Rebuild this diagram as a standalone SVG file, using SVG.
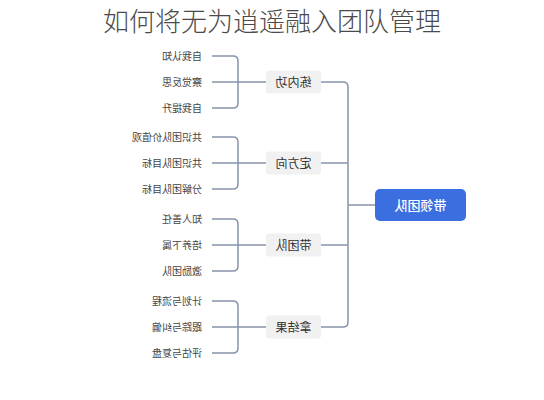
<svg xmlns="http://www.w3.org/2000/svg" width="544" height="400" viewBox="0 0 544 400">
<style>
text{font-family:"Noto Sans CJK SC","Noto Sans",sans-serif}
.title{font-size:26px;fill:#4a4a4a;text-anchor:middle;font-weight:300}
.leaf{font-size:10px;fill:#444}
.br rect{fill:#f1f1f1}
.br text{font-size:12px;fill:#333;text-anchor:middle}
.root rect{fill:#3b6fe0}
.root text{font-size:13px;fill:#fff;text-anchor:middle;font-weight:500}
.conn path{fill:none;stroke:#8794aa;stroke-width:1.5}
</style>
<rect width="544" height="400" fill="#fff"/>
<text class="title" x="272" y="31">如何将无为逍遥融入团队管理</text>
<g class="conn" id="connectors">
<path d="M375,205 H348"/>
<path d="M321,82 H343 Q348,82 348,87 V322 Q348,327 343,327 H321"/>
<path d="M321,163 H348"/>
<path d="M321,245 H348"/>
<path d="M266,82 H212 M212,56 H233 Q238,56 238,61 V103 Q238,108 233,108 H212"/>
<path d="M266,163 H212 M212,137 H233 Q238,137 238,142 V184 Q238,189 233,189 H212"/>
<path d="M266,245 H212 M212,219 H233 Q238,219 238,224 V266 Q238,271 233,271 H212"/>
<path d="M266,327 H212 M212,301 H233 Q238,301 238,306 V348 Q238,353 233,353 H212"/>
</g>
<g id="root" class="root"><rect x="375" y="189" width="91" height="32" rx="5"/><text transform="scale(-1,1)" x="-420.5" y="209.5">带领团队</text></g>
<g id="b1" class="br"><rect x="266" y="70.5" width="55" height="23" rx="3"/><text transform="scale(-1,1)" x="-293.5" y="86.5">练内功</text></g>
<g id="b2" class="br"><rect x="266" y="151.5" width="55" height="23" rx="3"/><text transform="scale(-1,1)" x="-293.5" y="167.5">定方向</text></g>
<g id="b3" class="br"><rect x="266" y="233.5" width="55" height="23" rx="3"/><text transform="scale(-1,1)" x="-293.5" y="249.5">带团队</text></g>
<g id="b4" class="br"><rect x="266" y="315.5" width="55" height="23" rx="3"/><text transform="scale(-1,1)" x="-293.5" y="331.5">拿结果</text></g>
<g id="l1a"><text class="leaf" transform="scale(-1,1)" x="-202" y="59.5">自我认知</text></g>
<g id="l1b"><text class="leaf" transform="scale(-1,1)" x="-202" y="85.5">察觉反思</text></g>
<g id="l1c"><text class="leaf" transform="scale(-1,1)" x="-202" y="111.5">自我提升</text></g>
<g id="l2a"><text class="leaf" transform="scale(-1,1)" x="-202" y="140.5">共识团队价值观</text></g>
<g id="l2b"><text class="leaf" transform="scale(-1,1)" x="-202" y="166.5">共识团队目标</text></g>
<g id="l2c"><text class="leaf" transform="scale(-1,1)" x="-202" y="192.5">分解团队目标</text></g>
<g id="l3a"><text class="leaf" transform="scale(-1,1)" x="-202" y="222.5">知人善任</text></g>
<g id="l3b"><text class="leaf" transform="scale(-1,1)" x="-202" y="248.5">培养下属</text></g>
<g id="l3c"><text class="leaf" transform="scale(-1,1)" x="-202" y="274.5">激励团队</text></g>
<g id="l4a"><text class="leaf" transform="scale(-1,1)" x="-202" y="304.5">计划与流程</text></g>
<g id="l4b"><text class="leaf" transform="scale(-1,1)" x="-202" y="330.5">跟踪与纠偏</text></g>
<g id="l4c"><text class="leaf" transform="scale(-1,1)" x="-202" y="356.5">评估与复盘</text></g>
</svg>
